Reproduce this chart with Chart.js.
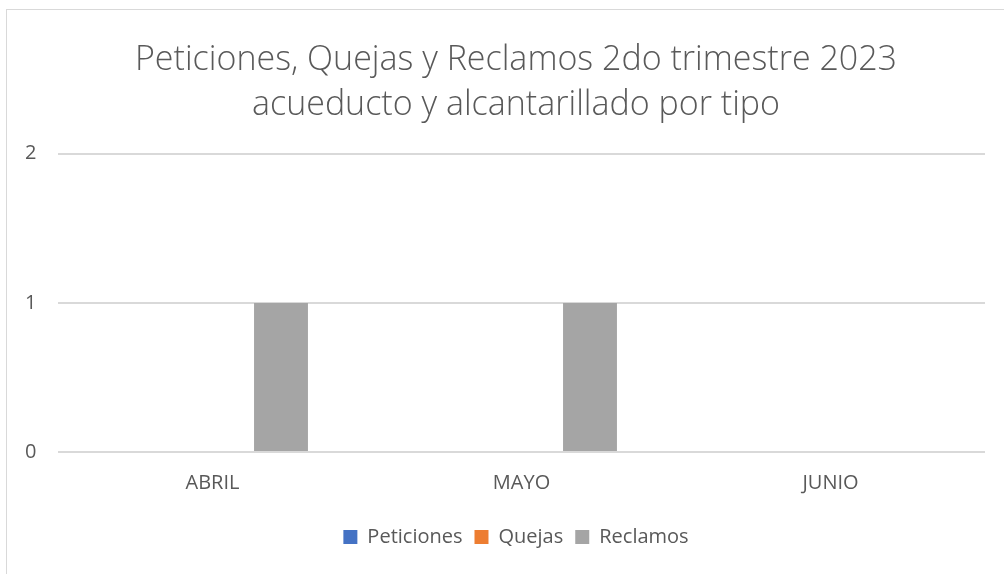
<!DOCTYPE html>
<html>
<head>
<meta charset="utf-8">
<script src="https://cdn.jsdelivr.net/npm/chart.js@4/dist/chart.umd.min.js"></script>
<style>
  html, body { margin: 0; padding: 0; background: #fff; }
  #wrap { position: relative; width: 1004px; height: 574px; overflow: hidden; }
  #frame { position: absolute; left: 6px; top: 9px; width: 1100px; height: 700px; border: 1px solid #d9d9d9; box-sizing: border-box; }
  canvas { position: absolute; left: 0; top: 0; }
</style>
</head>
<body>
<div id="wrap">
  <div id="frame"></div>
  <canvas id="myBarChart" width="1004" height="574"></canvas>
</div>
<script>
// Data
var months = ['ABRIL', 'MAYO', 'JUNIO'];
var peticiones = [0, 0, 0];
var quejas = [0, 0, 0];
var reclamos = [1, 1, 0];
var yTicks = [0, 1, 2];

Chart.defaults.font.family = '"Open Sans", "Liberation Sans", sans-serif';
Chart.defaults.color = '#595959';

var ctx = document.getElementById('myBarChart');
new Chart(ctx, {
    type: 'bar',
    data: {
        labels: months,
        datasets: [
            { label: 'Peticiones', data: peticiones, backgroundColor: '#4472C4' },
            { label: 'Quejas', data: quejas, backgroundColor: '#ED7D31' },
            { label: 'Reclamos', data: reclamos, backgroundColor: '#A5A5A5' }
        ]
    },
    options: {
        responsive: false,
        animation: false,
        categoryPercentage: 0.665,
        barPercentage: 0.787,
        layout: { padding: { left: 47, right: 19, top: 38, bottom: 17 } },
        plugins: {
            title: {
                display: true,
                text: ['Peticiones, Quejas y Reclamos 2do trimestre 2023', 'acueducto y alcantarillado por tipo'],
                font: { size: 34, weight: '300', lineHeight: 1.32 },
                color: '#595959',
                padding: { top: 0, bottom: 26 }
            },
            legend: {
                position: 'bottom',
                labels: {
                    boxWidth: 14,
                    boxHeight: 14,
                    padding: 12,
                    font: { size: 20 },
                    color: '#595959'
                }
            },
            tooltip: { enabled: false }
        },
        scales: {
            x: {
                grid: { display: false },
                border: { display: false },
                ticks: { font: { size: 20 }, color: '#595959', padding: 11 },
                afterFit: function (axis) { axis.height += 9; }
            },
            y: {
                min: 0,
                max: 2,
                afterBuildTicks: function (axis) {
                    axis.ticks = yTicks.map(function (v) { return { value: v }; });
                },
                afterFit: function (axis) { axis.width = 11; },
                grid: { color: '#d9d9d9', lineWidth: 2, drawTicks: false },
                border: { display: false },
                // mirrored labels with negative padding sit left of the plot, outside the clipped axis box
                ticks: { font: { size: 20 }, color: '#595959', mirror: true, padding: -33 }
            }
        }
    }
});
</script>
</body>
</html>
